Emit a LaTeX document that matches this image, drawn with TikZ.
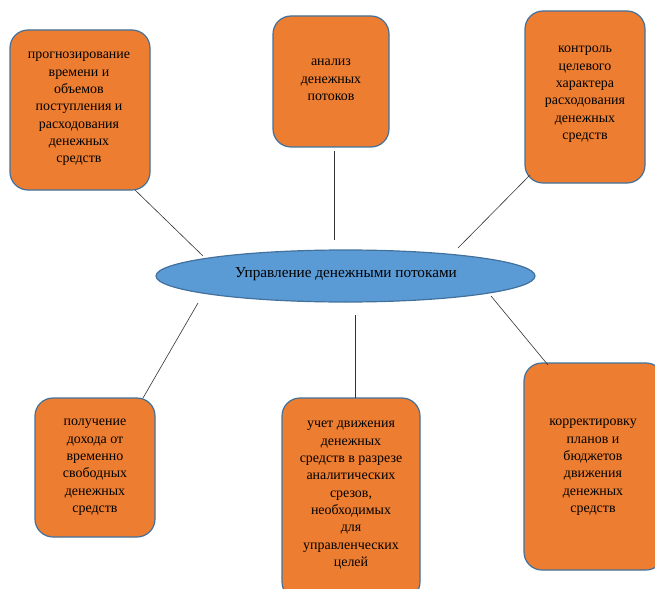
\documentclass[tikz,border=0pt]{standalone}
\usepackage{fontspec}
\setmainfont{Liberation Serif}
\newfontfamily\tnr{Liberation Serif}
\usetikzlibrary{shapes.geometric}
\definecolor{boxfill}{HTML}{ED7D31}
\definecolor{boxline}{HTML}{41719C}
\definecolor{ellfill}{HTML}{5B9BD5}
\begin{document}
\begin{tikzpicture}[x=1bp,y=-1bp,
  box/.style={draw=boxline, line width=1.2bp, fill=boxfill, rounded corners=18bp},
  txt/.style={anchor=north, align=center, font=\tnr\fontsize{14}{17.4}\selectfont, inner sep=0pt},
  conn/.style={draw=black!80, line width=0.6bp}]
\useasboundingbox (0,0) rectangle (655,589);
% boxes
\draw[box] (10,30) rectangle (150,190);
\draw[box] (273,16) rectangle (389,147);
\draw[box] (525,11) rectangle (645,183);
\draw[box] (35,398) rectangle (155,537);
\draw[box] (282,398) rectangle (420,600);
\draw[box] (524,363) rectangle (664,570);
% ellipse
\node[ellipse, draw=boxline, line width=1.2bp, fill=ellfill, minimum width=379bp, minimum height=52bp, inner sep=0pt] (c) at (345.5,276) {};
\node[font=\tnr\fontsize{15.3}{17}\selectfont] (ct) at (346,274) {Управление денежными потоками};
% texts
\node[txt] (t1) at (79,52) {прогнозирование\\времени и\\объемов\\поступления и\\расходования\\денежных\\средств};
\node[txt] (t2) at (331,59) {анализ\\денежных\\потоков};
\node[txt] (t3) at (585,46) {контроль\\целевого\\характера\\расходования\\денежных\\средств};
\node[txt] (t4) at (95,419) {получение\\дохода от\\временно\\свободных\\денежных\\средств};
\node[txt] (t5) at (351,421) {учет движения\\денежных\\средств в разрезе\\аналитических\\срезов,\\необходимых\\для\\управленческих\\целей};
\node[txt] (t6) at (593,419) {корректировку\\планов и\\бюджетов\\движения\\денежных\\средств};
% connector endpoints
\coordinate (a1) at (135,190); \coordinate (b1) at (203,256);
\coordinate (a2) at (334,151); \coordinate (b2) at (334,240);
\coordinate (a3) at (530,175); \coordinate (b3) at (458,248);
\coordinate (a4) at (143,398); \coordinate (b4) at (198,303);
\coordinate (a5) at (355,398); \coordinate (b5) at (355,315);
\coordinate (a6) at (548,365); \coordinate (b6) at (491,296);
\draw[conn] (a1) -- (b1);
\draw[conn] (a2) -- (b2);
\draw[conn] (a3) -- (b3);
\draw[conn] (a4) -- (b4);
\draw[conn] (a5) -- (b5);
\draw[conn] (a6) -- (b6);
\end{tikzpicture}
\end{document}
